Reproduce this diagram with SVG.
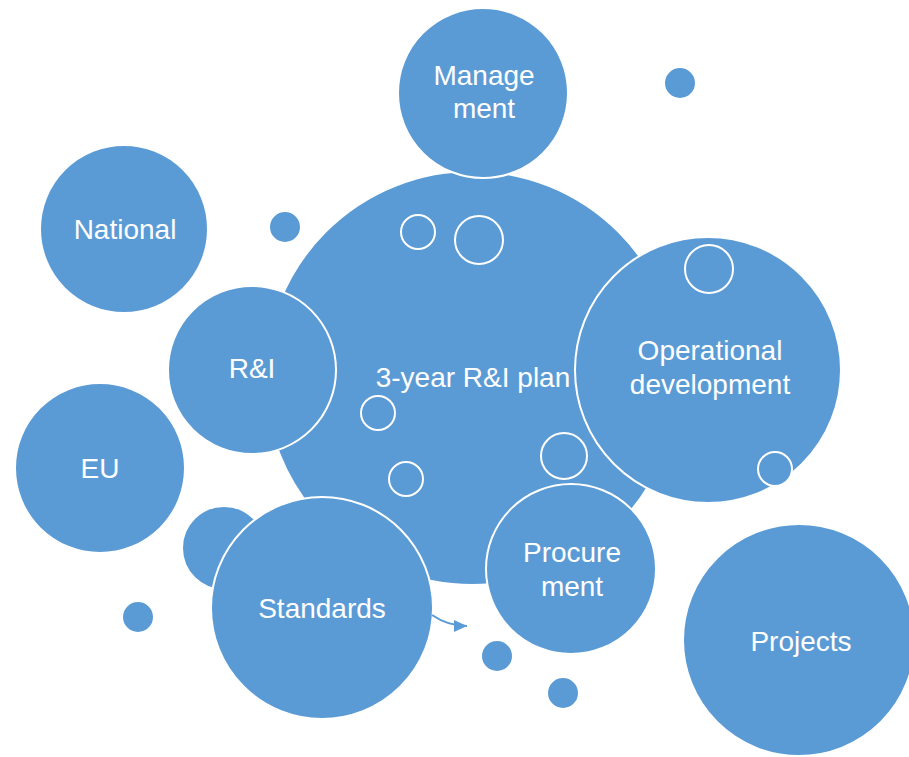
<svg xmlns="http://www.w3.org/2000/svg" width="909" height="757" viewBox="0 0 909 757">
  <style>
    .c { fill: #5B9BD5; stroke: #FFFFFF; stroke-width: 2; }
    .h { fill: #5B9BD5; stroke: #FFFFFF; stroke-width: 2; }
    .t { fill: #FFFFFF; font-family: "Liberation Sans", Arial, sans-serif; font-size: 28px; text-anchor: middle; }
    .conn { fill: none; stroke: #5B9BD5; stroke-width: 2; }
  </style>
  <defs>
    <marker id="arrow" markerUnits="userSpaceOnUse" viewBox="0 0 13 12" refX="13" refY="6" markerWidth="13" markerHeight="12" orient="auto">
      <path d="M0,0 L13,6 L0,12 z" fill="#5B9BD5"/>
    </marker>
  </defs>
  <rect width="909" height="757" fill="#FFFFFF"/>

  <g id="dots">
    <circle class="c" cx="680" cy="83" r="16"/>
    <circle class="c" cx="285" cy="227" r="16"/>
    <circle class="c" cx="138" cy="617" r="16"/>
    <circle class="c" cx="497" cy="656" r="16"/>
    <circle class="c" cx="563" cy="693" r="16"/>
    <circle class="c" cx="224" cy="548" r="42"/>
  </g>

  <g id="national">
    <circle class="c" cx="124" cy="229" r="84"/>
    <text class="t" x="125" y="239">National</text>
  </g>
  <g id="eu">
    <circle class="c" cx="100" cy="468" r="85"/>
    <text class="t" x="100" y="478">EU</text>
  </g>
  <g id="projects">
    <circle class="c" cx="799" cy="640" r="116"/>
    <text class="t" x="801" y="651">Projects</text>
  </g>

  <g id="plan">
    <circle class="c" cx="472" cy="378" r="207"/>
    <text class="t" x="473" y="387">3-year R&amp;I plan</text>
  </g>

  <g id="management">
    <circle class="c" cx="483" cy="93" r="85"/>
    <text class="t" x="484" y="85">Manage</text>
    <text class="t" x="484" y="118">ment</text>
  </g>
  <g id="ri">
    <circle class="c" cx="252" cy="370" r="84"/>
    <text class="t" x="252" y="378">R&amp;I</text>
  </g>
  <g id="operational">
    <circle class="c" cx="708" cy="370" r="133"/>
    <text class="t" x="710" y="360">Operational</text>
    <text class="t" x="710" y="394">development</text>
  </g>
  <g id="procurement">
    <circle class="c" cx="571" cy="569" r="85"/>
    <text class="t" x="572" y="562">Procure</text>
    <text class="t" x="572" y="596">ment</text>
  </g>
  <g id="standards">
    <circle class="c" cx="322" cy="608" r="111"/>
    <text class="t" x="322" y="618">Standards</text>
  </g>

  <g id="rings">
    <circle class="h" cx="418" cy="232" r="17"/>
    <circle class="h" cx="479" cy="240" r="24"/>
    <circle class="h" cx="378" cy="413" r="17"/>
    <circle class="h" cx="406" cy="479" r="17"/>
    <circle class="h" cx="564" cy="456" r="23"/>
    <circle class="h" cx="709" cy="269" r="24"/>
    <circle class="h" cx="775" cy="469" r="17"/>
  </g>

  <g id="connectors">
    <path class="conn" d="M432,615 Q448,626 467,626" marker-end="url(#arrow)"/>
  </g>
</svg>
